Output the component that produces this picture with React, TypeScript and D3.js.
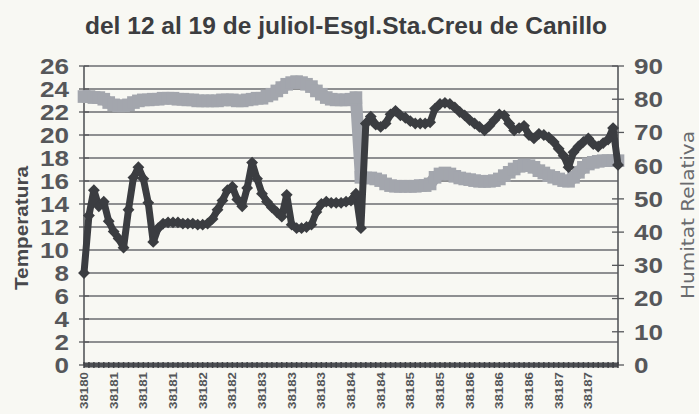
import React from 'react';
import * as d3 from 'd3';

// Readings from the scanned chart (one sample per category step)
const temperatura = [
  8.0, 13.0, 15.2, 13.8, 14.2, 12.5, 11.6, 11.0, 10.2, 13.5,
  16.3, 17.2, 16.2, 14.1, 10.7, 11.9, 12.3, 12.4, 12.4, 12.4,
  12.3, 12.3, 12.3, 12.2, 12.2, 12.3, 12.7, 13.5, 14.3, 15.2,
  15.5, 14.4, 13.8, 15.4, 17.6, 16.2, 14.9, 14.2, 13.7, 13.3,
  12.9, 14.8, 12.2, 11.9, 11.9, 12.0, 12.2, 13.3, 14.0, 14.2,
  14.1, 14.1, 14.1, 14.2, 14.3, 14.9, 11.9, 21.0, 21.6, 20.9,
  20.7, 21.0, 21.8, 22.1, 21.7, 21.5, 21.2, 21.0, 21.0, 21.0,
  21.1, 22.3, 22.7, 22.8, 22.7, 22.4, 22.0, 21.7, 21.3, 21.0,
  20.7, 20.4, 20.8, 21.3, 21.8, 21.7, 21.0, 20.4, 20.6, 20.8,
  20.0, 19.7, 20.1, 20.0, 19.8, 19.4, 18.8, 18.2, 17.2, 18.5,
  19.0, 19.4, 19.7, 19.2, 19.0, 19.3, 19.6, 20.6, 17.4,
];

const humitat = [
  80.8, 80.8, 80.5, 80.5, 80.0, 79.0, 78.3, 78.0, 78.0, 78.3,
  79.0, 79.5, 79.8, 79.8, 80.0, 80.0, 80.3, 80.3, 80.3, 80.0,
  80.0, 79.8, 79.8, 79.5, 79.5, 79.5, 79.5, 79.5, 79.8, 79.8,
  79.8, 79.5, 79.5, 79.8, 80.0, 80.3, 80.3, 81.0, 81.5, 82.5,
  83.5, 84.5, 85.0, 85.3, 85.0, 84.5, 83.8, 82.5, 81.5, 80.5,
  80.0, 79.8, 79.8, 79.8, 80.0, 80.5, 56.5, 56.3, 56.3, 56.0,
  55.5, 54.5, 54.0, 53.8, 53.8, 53.8, 53.8, 53.8, 54.0, 54.0,
  54.5, 56.5, 57.5, 57.8, 57.5, 56.8, 56.3, 56.0, 55.8, 55.5,
  55.3, 55.3, 55.3, 55.5, 56.0, 57.0, 58.0, 59.0, 59.8, 60.2,
  60.0, 59.5, 58.5, 57.8, 57.0, 56.5, 56.0, 55.5, 55.3, 56.5,
  58.0, 59.5, 60.5, 61.0, 61.3, 61.5, 61.5, 61.5, 61.5,
];

// Category labels shown every 6th sample
const xLabels = [
  '38180', '38181', '38181', '38181', '38182', '38182', '38183', '38183', '38183',
  '38184', '38184', '38185', '38185', '38186', '38186', '38186', '38187', '38187',
];
const labelEvery = 6;

const leftTicks = d3.range(0, 27, 2);
const rightTicks = d3.range(0, 91, 10);

const title = 'del 12 al 19 de juliol-Esgl.Sta.Creu de Canillo';

const W = 699;
const H = 414;
const plot = { left: 84, right: 618, top: 66, bottom: 365 };

export default function App() {
  const n = temperatura.length;
  const x = d3.scaleLinear().domain([0, n - 1]).range([plot.left, plot.right]);
  const yL = d3.scaleLinear().domain([0, 26]).range([plot.bottom, plot.top]);
  const yR = d3.scaleLinear().domain([0, 90]).range([plot.bottom, plot.top]);

  const tempLine = d3.line<number>().x((_, i) => x(i)).y(d => yL(d))(temperatura) || '';
  const humLine = d3.line<number>().x((_, i) => x(i)).y(d => yR(d))(humitat) || '';

  const square = d3.symbol(d3.symbolSquare, 160)() || '';
  const diamond = d3.symbol(d3.symbolSquare, 70)() || '';

  const dark = '#3b3d41';
  const light = '#a3a6ad';
  const grid = '#6b6d70';

  // tick label width grows with digit count (the scan is a little stretched)
  const tickLen = (t: number) => String(t).length * 14.5;

  return (
    <svg width={W} height={H} style={{ position: 'absolute', left: 0, top: 0 }}
      fontFamily="'Liberation Sans', Arial, sans-serif">
      <rect width={W} height={H} fill="#f8f8f3" />

      <text x={346} y={34} textAnchor="middle" fontSize={23} fontWeight="bold" fill="#3c3d40"
        textLength={522} lengthAdjust="spacingAndGlyphs">{title}</text>

      {/* gridlines */}
      {leftTicks.filter(t => t > 0).map(t => (
        <line key={'g' + t} x1={plot.left} x2={plot.right} y1={yL(t)} y2={yL(t)}
          stroke={grid} strokeWidth={1.3} />
      ))}

      {/* axes */}
      <line x1={plot.left} x2={plot.left} y1={plot.top} y2={plot.bottom} stroke="#55575a" strokeWidth={1.6} />
      <line x1={plot.right} x2={plot.right} y1={plot.top} y2={plot.bottom} stroke="#55575a" strokeWidth={1.6} />

      {leftTicks.map(t => (
        <g key={'l' + t}>
          <line x1={plot.left - 5} x2={plot.left + 5} y1={yL(t)} y2={yL(t)} stroke="#55575a" strokeWidth={1.3} />
          <text x={69} y={yL(t)} dy="0.36em" textAnchor="end" fontSize={22} fontWeight="bold" fill="#56575a"
            textLength={tickLen(t)} lengthAdjust="spacingAndGlyphs">{t}</text>
        </g>
      ))}
      {rightTicks.map(t => (
        <g key={'r' + t}>
          <line x1={plot.right - 6} x2={plot.right + 6} y1={yR(t)} y2={yR(t)} stroke="#55575a" strokeWidth={1.3} />
          <text x={634} y={yR(t)} dy="0.36em" textAnchor="start" fontSize={22} fontWeight="bold" fill="#56575a"
            textLength={tickLen(t)} lengthAdjust="spacingAndGlyphs">{t}</text>
        </g>
      ))}

      <text transform={`translate(28,228) rotate(-90)`} textAnchor="middle" fontSize={19} fontWeight="bold" fill="#48494c"
        textLength={124} lengthAdjust="spacingAndGlyphs">Temperatura</text>
      <text transform={`translate(694,215) rotate(-90)`} textAnchor="middle" fontSize={18}
        fontFamily="'DejaVu Sans', sans-serif" fill="#6a6b6e"
        textLength={168} lengthAdjust="spacingAndGlyphs">Humitat Relativa</text>

      {/* series */}
      <path d={humLine} fill="none" stroke={light} strokeWidth={12} strokeLinejoin="round" />
      {humitat.map((d, i) => (
        <path key={'h' + i} d={square} transform={`translate(${x(i)},${yR(d)})`} fill={light} />
      ))}
      <path d={tempLine} fill="none" stroke={dark} strokeWidth={7} strokeLinejoin="round" />
      {temperatura.map((d, i) => (
        <path key={'t' + i} d={diamond} transform={`translate(${x(i)},${yL(d)}) rotate(45)`} fill={dark} />
      ))}

      {/* dense category ticks form a dark band along the bottom axis */}
      <line x1={plot.left} x2={plot.right} y1={plot.bottom} y2={plot.bottom} stroke="#4d4f53" strokeWidth={5} />
      {temperatura.map((_, i) => (
        <line key={'c' + i} x1={x(i)} x2={x(i)} y1={plot.bottom - 3} y2={plot.bottom + 3}
          stroke="#3f4145" strokeWidth={1.5} />
      ))}

      {xLabels.map((lab, k) => (
        <text key={'x' + k} transform={`translate(${x(k * labelEvery) + 4},372) rotate(-90)`}
          textAnchor="end" fontSize={11} fontWeight="bold" fill="#55575a"
          textLength={37} lengthAdjust="spacingAndGlyphs">{lab}</text>
      ))}
    </svg>
  );
}
